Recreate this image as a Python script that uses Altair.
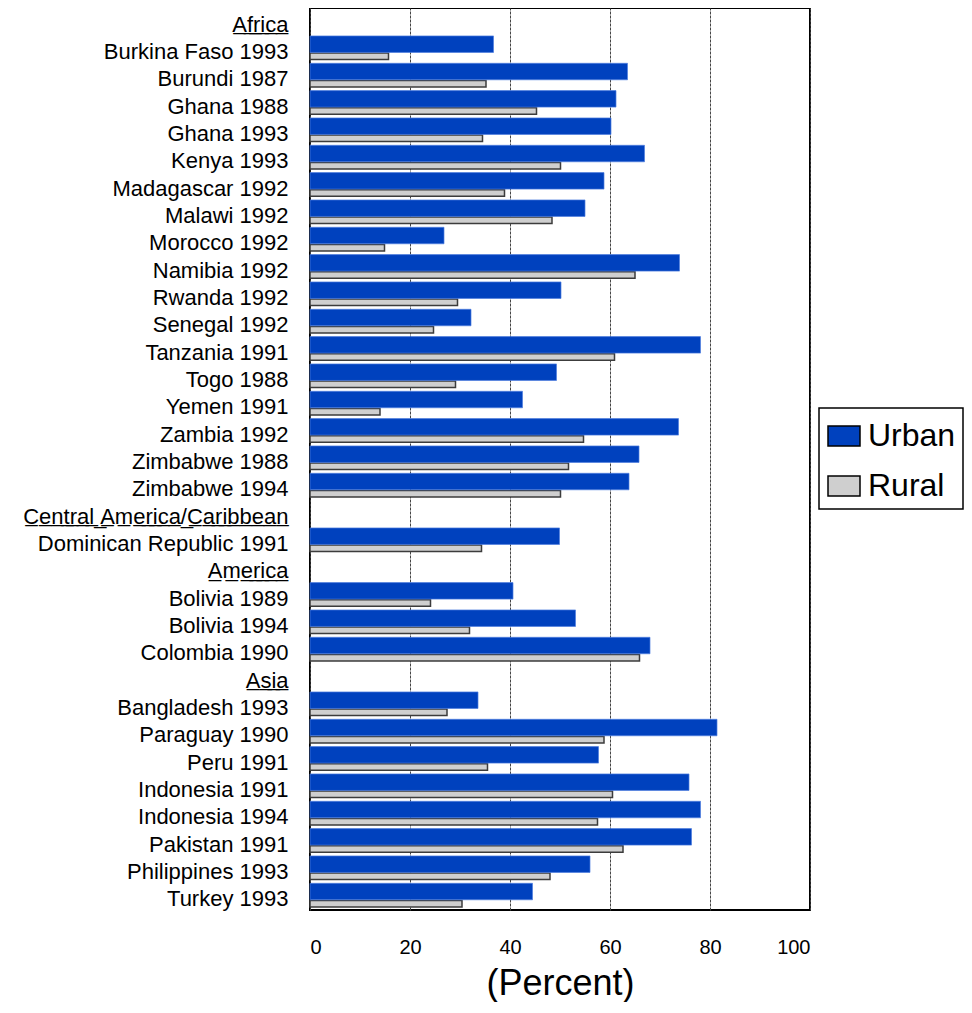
import altair as alt
import pandas as pd

FONT = "Liberation Sans"

labels = [
    "Africa", "Burkina Faso 1993", "Burundi 1987", "Ghana 1988", "Ghana 1993",
    "Kenya 1993", "Madagascar 1992", "Malawi 1992", "Morocco 1992", "Namibia 1992",
    "Rwanda 1992", "Senegal 1992", "Tanzania 1991", "Togo 1988", "Yemen 1991",
    "Zambia 1992", "Zimbabwe 1988", "Zimbabwe 1994",
    "Central America/Caribbean", "Dominican Republic 1991",
    "America", "Bolivia 1989", "Bolivia 1994", "Colombia 1990",
    "Asia", "Bangladesh 1993", "Paraguay 1990", "Peru 1991", "Indonesia 1991",
    "Indonesia 1994", "Pakistan 1991", "Philippines 1993", "Turkey 1993",
]
headings = ["Africa", "Central America/Caribbean", "America", "Asia"]

urban = [None, 36.7, 63.5, 61.2, 60.2, 66.9, 58.8, 55.0, 26.8, 73.9,
         50.2, 32.2, 78.1, 49.3, 42.5, 73.7, 65.8, 63.8,
         None, 49.9,
         None, 40.6, 53.1, 68.0,
         None, 33.6, 81.4, 57.7, 75.8, 78.1, 76.3, 56.0, 44.5]
rural = [None, 15.7, 35.2, 45.3, 34.5, 50.1, 38.9, 48.4, 14.9, 65.0,
         29.5, 24.7, 60.9, 29.1, 14.0, 54.7, 51.7, 50.1,
         None, 34.3,
         None, 24.1, 31.9, 65.9,
         None, 27.4, 58.8, 35.5, 60.5, 57.5, 62.6, 48.0, 30.4]

series = ["Urban", "Rural"]
colors = ["#0041BE", "#CFCFCF"]


def underline(s):
    return "".join(ch + "\u0332" for ch in s)


display = [underline(l) if l in headings else l for l in labels]

rows = []
for lab, u, r in zip(display, urban, rural):
    if u is not None:
        rows.append({"label": lab, "series": "Urban", "value": u})
    if r is not None:
        rows.append({"label": lab, "series": "Rural", "value": r})
df = pd.DataFrame(rows)

y_enc = alt.Y(
    "label:N",
    scale=alt.Scale(domain=display, paddingInner=0, paddingOuter=0),
    axis=alt.Axis(
        title=None, ticks=False, domain=False, grid=False,
        labelFontSize=22, labelFont=FONT, labelColor="black",
        labelPadding=22, labelLimit=0, labelOffset=3,
    ),
)
x_enc = alt.X(
    "value:Q",
    scale=alt.Scale(domain=[0, 100], nice=False),
    axis=alt.Axis(
        values=[0, 20, 40, 60, 80, 100], grid=True, gridDash=[3, 1],
        gridColor="#444444", gridWidth=1, ticks=False, tickSize=0,
        domain=False, labelFontSize=20, labelFont=FONT, labelColor="black",
        labelPadding=27, title="(Percent)", titleFontSize=36,
        titleFont=FONT, titleFontWeight="normal", titleColor="black",
        titlePadding=9,
    ),
)
color_enc = alt.Color(
    "series:N",
    scale=alt.Scale(domain=series, range=colors),
    legend=alt.Legend(
        title=None, orient="none", legendX=509, legendY=400,
        symbolType="M-0.95,-0.5H0.65V0.5H-0.95Z", symbolSize=1600,
        symbolStrokeColor="black", symbolStrokeWidth=1.5, symbolOpacity=1,
        labelFontSize=32, labelFont=FONT, labelColor="black",
        labelOffset=0, padding=7,
        strokeColor="black", fillColor="white",
    ),
)

base = alt.Chart(df)
rural_layer = base.transform_filter(alt.datum.series == "Rural").mark_bar(
    height=6.5, yOffset=7.3, stroke="#3c3c3c", strokeWidth=1.5, opacity=1
).encode(x=x_enc, y=y_enc, color=color_enc)
urban_layer = base.transform_filter(alt.datum.series == "Urban").mark_bar(
    height=16.5, yOffset=-4.8, stroke="#4f7ee0", strokeWidth=0.7, opacity=1
).encode(x=x_enc, y=y_enc, color=color_enc)

chart = (
    alt.layer(rural_layer, urban_layer)
    .properties(width=500, height=902,
                autosize=alt.AutoSizeParams(type="none"),
                padding={"left": 302, "top": 0, "right": 154, "bottom": 92},
                background="white")
    .configure_view(stroke="black", strokeWidth=2)
    .configure_legend(strokeWidth=1.5, rowPadding=13)
)

chart.save("out.html", embed_options={"renderer": "svg", "actions": False})
